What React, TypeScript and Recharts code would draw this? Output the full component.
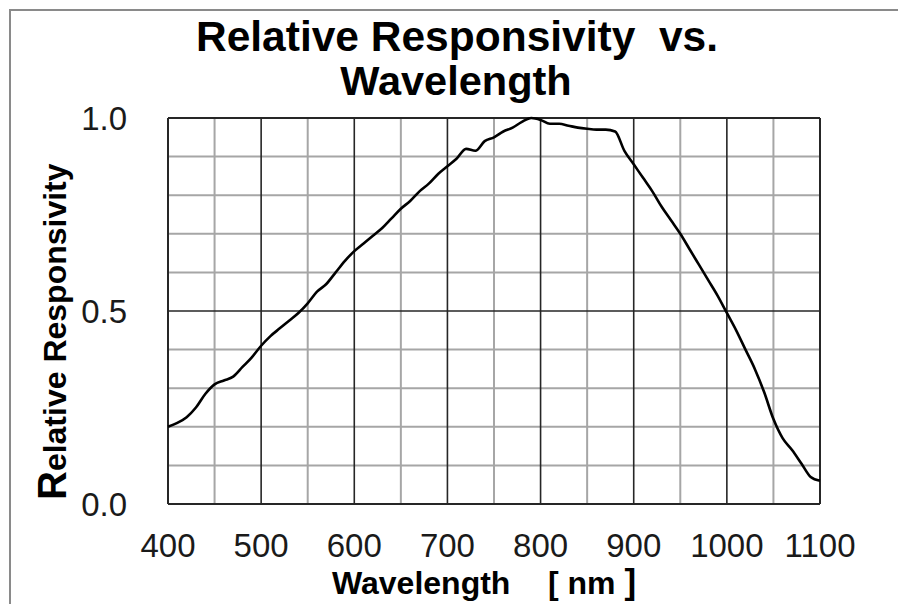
import React from "react";
import { LineChart, Line, XAxis, YAxis, ReferenceLine } from "recharts";

// wavelength [nm] and relative responsivity
const wavelengths = [
  400, 410, 420, 430, 440, 450, 460, 470, 480, 490, 500, 510, 520, 530, 540,
  550, 560, 570, 580, 590, 600, 610, 620, 630, 640, 650, 660, 670, 680, 690,
  700, 710, 720, 730, 740, 750, 760, 770, 780, 790, 800, 810, 820, 830, 840,
  850, 860, 870, 880, 890, 900, 910, 920, 930, 940, 950, 960, 970, 980, 990,
  1000, 1010, 1020, 1030, 1040, 1050, 1060, 1070, 1080, 1090, 1100,
];
const responsivity = [
  0.2, 0.21, 0.225, 0.25, 0.285, 0.31, 0.32, 0.33, 0.355, 0.38, 0.41, 0.435,
  0.455, 0.475, 0.495, 0.52, 0.55, 0.57, 0.6, 0.63, 0.655, 0.675, 0.695, 0.715,
  0.74, 0.765, 0.785, 0.81, 0.83, 0.855, 0.875, 0.895, 0.92, 0.915, 0.94, 0.95,
  0.965, 0.975, 0.99, 1.0, 0.995, 0.985, 0.985, 0.98, 0.975, 0.972, 0.97, 0.97,
  0.965, 0.915, 0.88, 0.845, 0.81, 0.77, 0.735, 0.7, 0.66, 0.62, 0.58, 0.54,
  0.495, 0.45, 0.4, 0.35, 0.29, 0.22, 0.17, 0.14, 0.105, 0.07, 0.06,
];

const xTicks = [400, 500, 600, 700, 800, 900, 1000, 1100];
const yTicks = [0, 0.5, 1];
const minorX = [450, 550, 650, 750, 850, 950, 1050];
const majorX = [500, 600, 700, 800, 900, 1000];
const minorY = [0.1, 0.2, 0.3, 0.4, 0.6, 0.7, 0.8, 0.9];
const majorY = [0.5];
const frameX = [400, 1100];
const frameY = [0, 1];

const data = wavelengths.map((w, i) => ({ w, r: responsivity[i] }));

const FONT = "'Liberation Sans', Arial, sans-serif";
const tickStyle = { fontFamily: FONT, fontSize: 33, fill: "#1a1a1a" };

export default function App() {
  return (
    <div style={{ position: "absolute", left: 0, top: 0, width: 898, height: 604, background: "#fff", overflow: "hidden" }}>
      <div style={{ position: "absolute", left: 9, top: 9, width: 1000, height: 1000, borderLeft: "2px solid #8a8a8a", borderTop: "2px solid #8a8a8a" }} />
      <svg width={898} height={604} style={{ position: "absolute", left: 0, top: 0 }}>
        <g fontFamily={FONT} fontWeight="bold" fill="#000">
          <text x={457} y={51} fontSize={42.5} textAnchor="middle">
            Relative Responsivity{"\u00a0\u00a0"}vs.
          </text>
          <text x={456} y={95} fontSize={41.5} textAnchor="middle">
            Wavelength
          </text>
          <text transform="translate(66,500) rotate(-90)" fontSize={32}>
            <tspan fontSize={40}>R</tspan>elative Responsivity
          </text>
          <text x={332} y={594} fontSize={32}>Wavelength</text>
          <text x={548} y={594} fontSize={32}>
            [ nm <tspan fontSize={35}>]</tspan>
          </text>
        </g>
      </svg>
      <div style={{ position: "absolute", left: 0, top: 0 }}>
        <LineChart width={898} height={604} data={data} margin={{ top: 118, right: 78, bottom: 0, left: 0 }}>
          <XAxis
            dataKey="w"
            type="number"
            domain={[400, 1100]}
            ticks={xTicks}
            axisLine={false}
            tickLine={false}
            tickSize={0}
            tickMargin={30}
            height={100}
            tick={tickStyle}
            interval={0}
          />
          <YAxis
            type="number"
            domain={[0, 1]}
            ticks={yTicks}
            axisLine={false}
            tickLine={false}
            tickSize={0}
            tickMargin={41}
            width={168}
            tick={tickStyle}
            tickFormatter={(v: number) => v.toFixed(1)}
            interval={0}
          />
          {minorX.map((v) => (
            <ReferenceLine key={"mx" + v} x={v} stroke="#a6a6a6" strokeWidth={2} />
          ))}
          {minorY.map((v) => (
            <ReferenceLine key={"my" + v} y={v} stroke="#a6a6a6" strokeWidth={2} />
          ))}
          {majorX.map((v) => (
            <ReferenceLine key={"Mx" + v} x={v} stroke="#262626" strokeWidth={1.6} />
          ))}
          {majorY.map((v) => (
            <ReferenceLine key={"My" + v} y={v} stroke="#262626" strokeWidth={1.6} />
          ))}
          {frameX.map((v) => (
            <ReferenceLine key={"fx" + v} x={v} stroke="#262626" strokeWidth={2} />
          ))}
          {frameY.map((v) => (
            <ReferenceLine key={"fy" + v} y={v} stroke="#262626" strokeWidth={2} />
          ))}
          <Line
            type="monotone"
            dataKey="r"
            stroke="#000"
            strokeWidth={2.6}
            dot={false}
            isAnimationActive={false}
          />
        </LineChart>
      </div>
    </div>
  );
}
